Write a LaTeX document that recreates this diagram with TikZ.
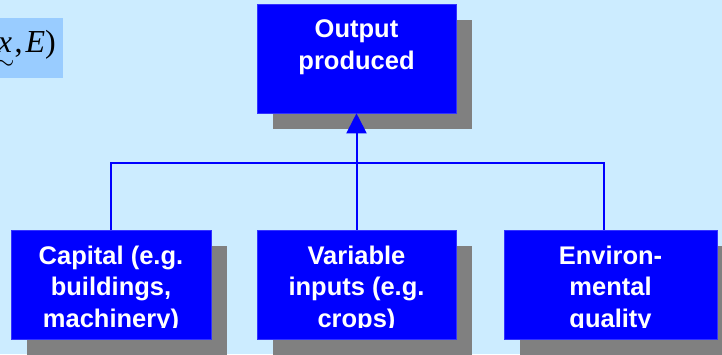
\documentclass[tikz,border=0pt]{standalone}
\usepackage{amsmath}
\usepackage{fontspec}
\newfontfamily\blockfont{Liberation Sans}[BoldFont=* Bold]
\newfontfamily\formulafont{Liberation Serif}
\usetikzlibrary{positioning}
\usetikzlibrary{shadows}
\usetikzlibrary{arrows.meta}
\definecolor{paleblue}{RGB}{204,236,255}
\definecolor{formulablue}{RGB}{153,204,255}
\definecolor{blockblue}{RGB}{0,0,255}
\definecolor{blockedge}{RGB}{51,51,255}
\definecolor{shadowgray}{RGB}{128,128,128}
\tikzset{block/.style={draw=blockedge, line width=0.6pt, fill=blockblue, minimum width=#1, minimum height=109pt, inner sep=0pt, drop shadow={shadow xshift=16pt, shadow yshift=-16pt, fill=shadowgray, opacity=1}}}
\tikzset{blocktext/.style={text=white, font=\blockfont\bfseries\fontsize{25.5}{31.5}\selectfont, align=center, inner sep=0pt}}
\tikzset{link/.style={draw=blockblue, line width=2pt}}

\begin{document}
\begin{tikzpicture}[x=1pt, y=-1pt]
\useasboundingbox (0,0) rectangle (722,354);
\fill[paleblue] (0,0) rectangle (722,354);

% formula, cut at the left edge
\fill[formulablue] (0,18) rectangle (63,78) coordinate (formula-corner);
\begin{scope}
\clip (0,18) rectangle (formula-corner);
\node[anchor=base east, inner sep=0pt, font=\formulafont\fontsize{32}{38}\selectfont] (formula) at (56,52) {$\underset{\raisebox{-3pt}{$\sim$}}{\text{\itshape x}}\text{,\kern3pt\itshape E\/\upshape)}$};
\end{scope}

\node[block=199pt] (output) at (356.5,58.5) {};
\node[block=200pt] (capital) at (111,284.5) {};
\node[block=199pt] (variable) at (356.5,284.5) {};
\node[block=213pt] (environ) at (610.5,284.5) {};

\node[blocktext, below=16pt of output.north] (output-text) {Output\\produced};

\begin{scope}
\clip (capital.north west) rectangle ([yshift=12pt]capital.south east);
\node[blocktext, below=16pt of capital.north] (capital-text) {Capital (e.g.\\buildings,\\machinery)};
\end{scope}
\begin{scope}
\clip (variable.north west) rectangle ([yshift=12pt]variable.south east);
\node[blocktext, below=16pt of variable.north] (variable-text) {Variable\\inputs (e.g.\\crops)};
\end{scope}
\begin{scope}
\clip (environ.north west) rectangle ([yshift=12pt]environ.south east);
\node[blocktext, below=16pt of environ.north] (environ-text) {Environ-\\mental\\quality};
\end{scope}

% connectors
\coordinate (join) at (356.5,163);
\draw[link] ([xshift=-0.5pt]capital.north) |- (join) -| ([xshift=-6.5pt]environ.north);
\draw[link, -{Triangle[width=20pt, length=20pt]}] (variable.north) -- (output.south);
\end{tikzpicture}
\end{document}
